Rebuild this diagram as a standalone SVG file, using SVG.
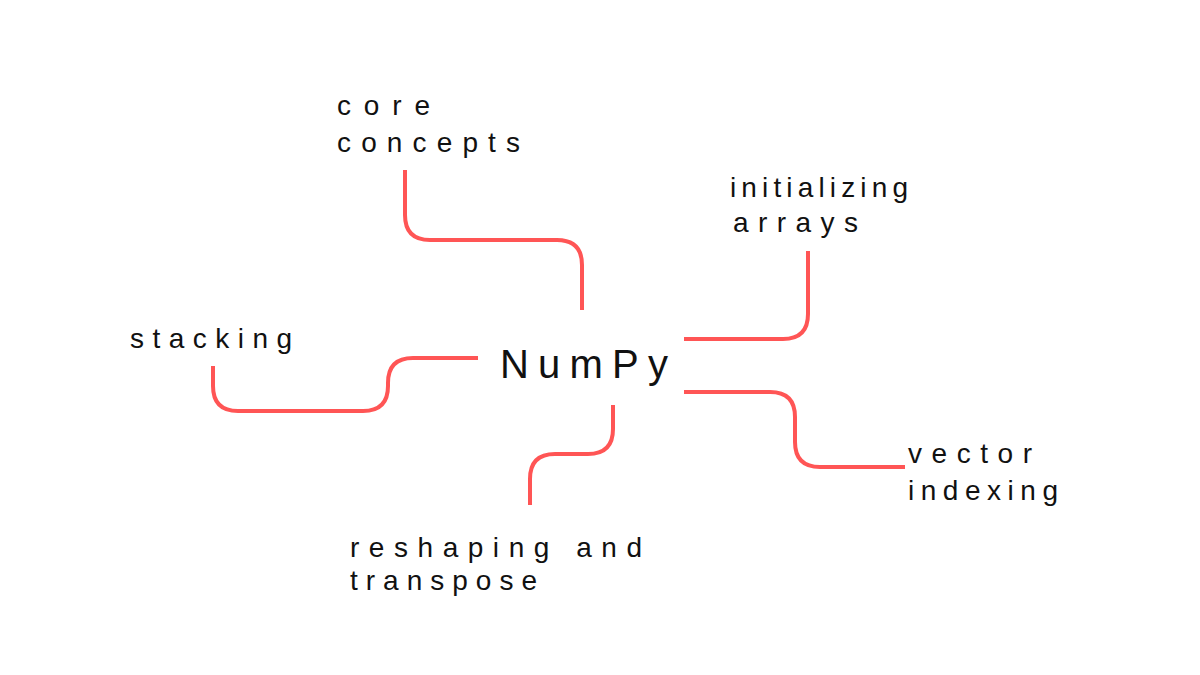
<svg xmlns="http://www.w3.org/2000/svg" width="1200" height="675" viewBox="0 0 1200 675">
<style>
.c{fill:none;stroke:#ff5555;stroke-width:4;stroke-linecap:butt}
.t{font-family:"Liberation Sans","DejaVu Sans",sans-serif;font-size:28px;fill:#111}
.m{font-family:"Liberation Sans","DejaVu Sans",sans-serif;font-size:40px;fill:#111}
</style>
<rect width="1200" height="675" fill="#ffffff"/>
<g id="connectors">
<path class="c" d="M405,170 V215 Q405,240 430,240 H557 Q582,240 582,265 V310"/>
<path class="c" d="M808,251 V314 Q808,339 783,339 H684"/>
<path class="c" d="M213,366 V386 Q213,411 238,411 H363 Q388,411 388,386 V383 Q388,358 413,358 H478"/>
<path class="c" d="M613,405 V429 Q613,454 588,454 H555 Q530,454 530,479 V505"/>
<path class="c" d="M684,392 H770 Q795,392 795,417 V442 Q795,467 820,467 H905"/>
</g>
<g id="numpy"><text class="m" x="500" y="378" textLength="168" lengthAdjust="spacing">NumPy</text></g>
<g id="core-concepts">
<text class="t" x="337" y="115" textLength="93" lengthAdjust="spacing">core</text>
<text class="t" x="337" y="152" textLength="183" lengthAdjust="spacing">concepts</text>
</g>
<g id="initializing-arrays">
<text class="t" x="730" y="197" textLength="178" lengthAdjust="spacing">initializing</text>
<text class="t" x="733" y="232" textLength="125" lengthAdjust="spacing">arrays</text>
</g>
<g id="stacking"><text class="t" x="130" y="348" textLength="162" lengthAdjust="spacing">stacking</text></g>
<g id="reshaping-transpose">
<text class="t" x="350" y="557" textLength="292" lengthAdjust="spacing">reshaping and</text>
<text class="t" x="350" y="590" textLength="187" lengthAdjust="spacing">transpose</text>
</g>
<g id="vector-indexing">
<text class="t" x="908" y="463" textLength="124" lengthAdjust="spacing">vector</text>
<text class="t" x="908" y="500" textLength="150" lengthAdjust="spacing">indexing</text>
</g>
</svg>
